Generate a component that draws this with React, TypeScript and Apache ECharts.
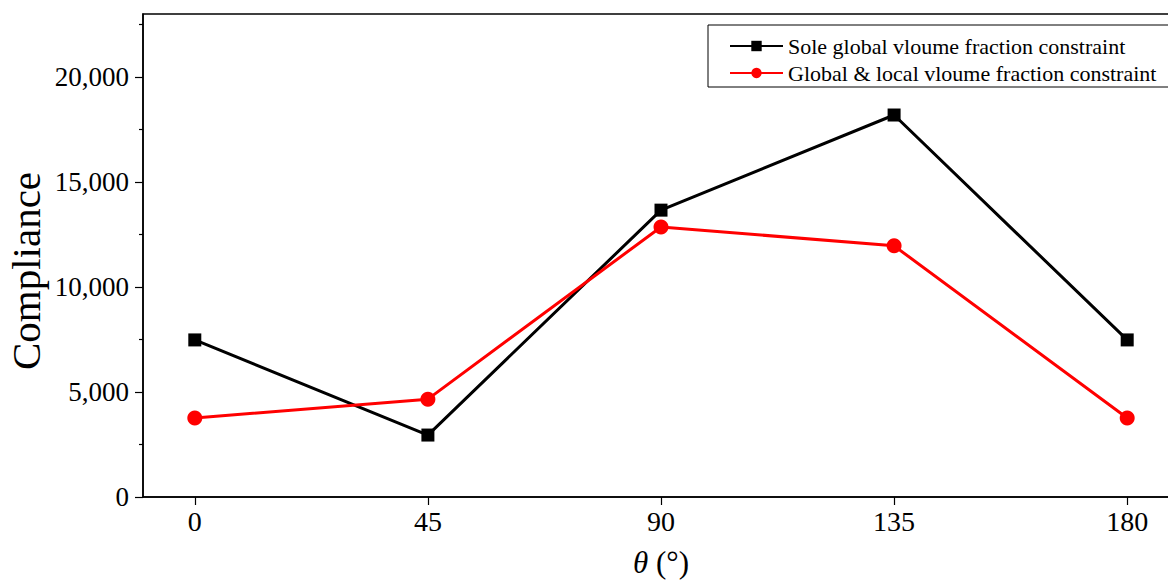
import React, { useEffect, useRef } from "react";
import * as echarts from "echarts";

const angles = [0, 45, 90, 135, 180];
const soleGlobal = [7480, 2950, 13660, 18190, 7480];
const globalLocal = [3760, 4660, 12860, 11960, 3760];
const seriesNames = ["Sole global vloume fraction constraint", "Global & local vloume fraction constraint"];
const yMajorTicks = [0, 5000, 10000, 15000, 20000];
const yMinorTicks = [2500, 7500, 12500, 17500, 22500];
const xTicks = [0, 45, 90, 135, 180];
const yAxisTitle = "Compliance";

const FONT = "'Liberation Serif', 'Times New Roman', serif";

export default function App() {
  const ref = useRef<HTMLDivElement>(null);
  useEffect(() => {
    if (!ref.current) return;
    const chart = echarts.init(ref.current, undefined, { renderer: "svg" });
    chart.setOption({
      animation: false,
      backgroundColor: "#ffffff",
      grid: {
        left: 143,
        top: 14,
        width: 1036,
        bottom: 84,
        containLabel: false,
        outerBoundsMode: "none",
        show: true,
        borderColor: "#000",
        borderWidth: 1.5,
        backgroundColor: "transparent",
      },
      graphic: [
        {
          type: "text",
          x: 26,
          y: 271,
          rotation: Math.PI / 2,
          style: {
            text: yAxisTitle,
            fontFamily: FONT,
            fontSize: 41,
            fill: "#000",
            textAlign: "center",
            textVerticalAlign: "middle",
          },
        },
      ],
      legend: {
        orient: "vertical",
        left: 708,
        top: 25,
        borderColor: "#000",
        borderWidth: 1,
        borderRadius: 0,
        padding: [10, 27, 3, 21],
        itemWidth: 53,
        itemHeight: 13,
        itemGap: 5,
        textStyle: { fontFamily: FONT, fontSize: 22, lineHeight: 22, color: "#000" },
        data: seriesNames,
      },
      xAxis: {
        type: "value",
        min: -10,
        max: 190,
        splitLine: { show: false },
        axisLine: { onZero: false, lineStyle: { color: "#000", width: 1.5 } },
        axisTick: { customValues: xTicks, length: 8, lineStyle: { color: "#000", width: 1.2 } },
        axisLabel: {
          customValues: xTicks,
          fontFamily: FONT,
          fontSize: 28,
          color: "#000",
          margin: 10,
        },
        name: "{i|θ} (°)",
        nameLocation: "middle",
        nameGap: 50,
        nameTextStyle: {
          fontFamily: FONT,
          fontSize: 31,
          color: "#000",
          rich: { i: { fontFamily: FONT, fontSize: 31, fontStyle: "italic", color: "#000" } },
        },
      },
      yAxis: [
        {
          type: "value",
          min: 0,
          max: 23000,
          splitLine: { show: false },
          axisLine: { show: true, onZero: false, lineStyle: { color: "#000", width: 1.5 } },
          axisTick: { customValues: yMajorTicks, length: 8, lineStyle: { color: "#000", width: 1.2 } },
          axisLabel: {
            customValues: yMajorTicks,
            fontFamily: FONT,
            fontSize: 27,
            color: "#000",
            margin: 14,
            formatter: (v: number) => v.toLocaleString("en-US"),
          },
        },
        {
          type: "value",
          min: 0,
          max: 23000,
          position: "left",
          splitLine: { show: false },
          axisLine: { show: false, onZero: false },
          axisTick: { customValues: yMinorTicks, length: 4, lineStyle: { color: "#000", width: 1.2 } },
          axisLabel: { show: false },
        },
      ],
      series: [
        {
          name: seriesNames[0],
          type: "line",
          data: angles.map((a, i) => [a, soleGlobal[i]]),
          symbol: "rect",
          symbolSize: 13,
          color: "#000000",
          lineStyle: { color: "#000000", width: 3 },
          itemStyle: { color: "#000000" },
        },
        {
          name: seriesNames[1],
          type: "line",
          data: angles.map((a, i) => [a, globalLocal[i]]),
          symbol: "circle",
          symbolSize: 15,
          color: "#ff0000",
          lineStyle: { color: "#ff0000", width: 3 },
          itemStyle: { color: "#ff0000" },
        },
      ],
    });
    return () => chart.dispose();
  }, []);
  return (
    <div
      ref={ref}
      style={{ position: "absolute", left: 0, top: 0, width: 1168, height: 581, overflow: "hidden" }}
    />
  );
}
